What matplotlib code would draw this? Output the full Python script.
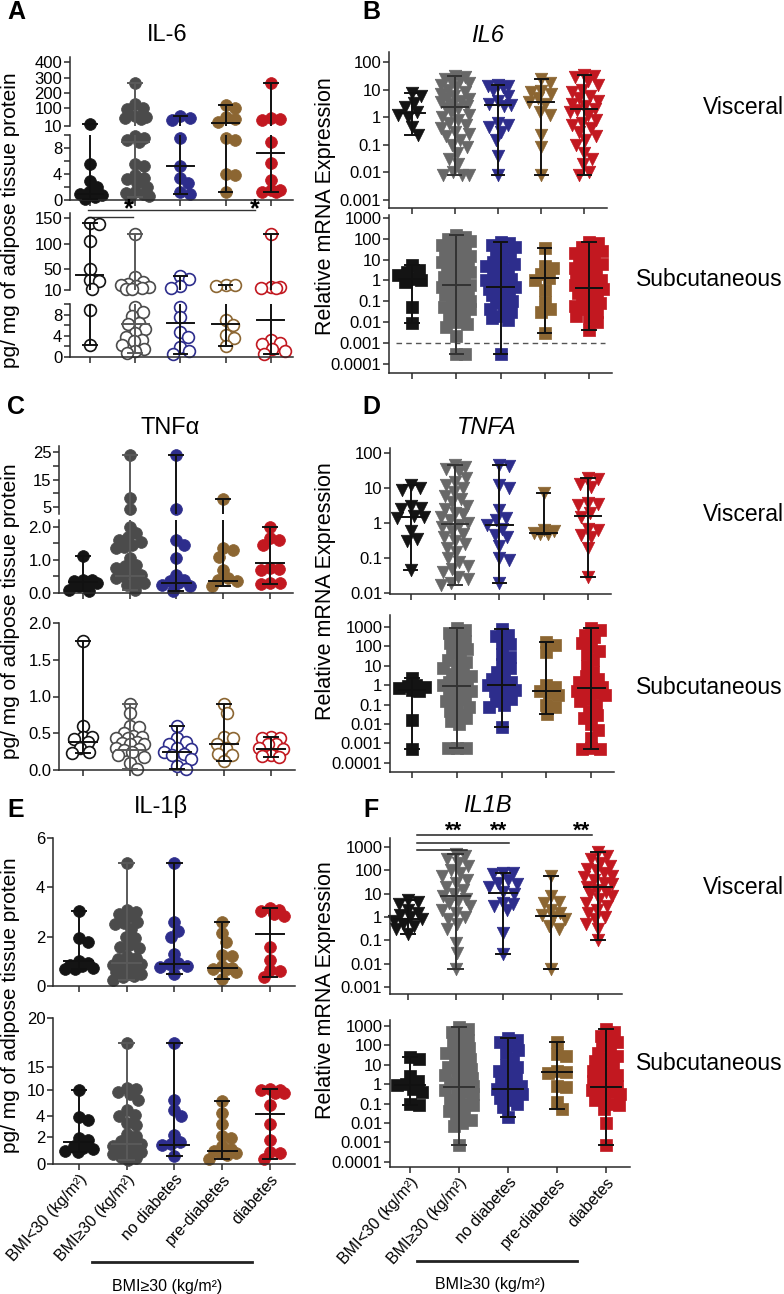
import numpy as np
import matplotlib.pyplot as plt
from matplotlib.lines import Line2D
from matplotlib.ticker import FuncFormatter, NullFormatter
from matplotlib.transforms import blended_transform_factory

plt.rcParams['font.family'] = ['Liberation Sans', 'DejaVu Sans']

W, H = 784, 1294

groups = ['BMI<30 (kg/m²)', 'BMI≥30 (kg/m²)', 'no diabetes', 'pre-diabetes', 'diabetes']
prot_colors = ['#141414', '#4b4b4b', '#2d2d8c', '#8c6632', '#c21820']
mrna_colors = ['#141414', '#686868', '#2d2d8c', '#8c6632', '#c21820']
prot_lines = ['#111111', '#5a5a5a', '#111111', '#111111', '#111111']
mrna_lines = ['#111111', '#333333', '#111111', '#111111', '#111111']

# ---- A: IL-6 protein (pg/mg)
il6_prot_visc = [
    [20, 5.5, 3.0, 2.0, 1.2, 1.0, 0.8, 0.5, 0.2],
    [270, 130, 100, 95, 60, 55, 50, 45, 9.8, 9.5, 9.2, 9.0, 5.6, 5.3, 3.8, 3.4, 3.2, 2.6,
     2.0, 1.2, 1.1, 1.0, 0.6, 0.5],
    [60, 50, 38, 9.5, 5.3, 3.4, 2.6, 1.2, 0.9],
    [120, 100, 55, 45, 30, 9.6, 9.2, 4.0, 3.8, 1.3],
    [270, 50, 45, 40, 9.0, 5.7, 3.1, 1.6, 1.5, 1.3, 1.2],
]
il6_prot_visc_med = [0.9, 9.0, 5.2, 25, 7.2]
il6_prot_subq = [
    [140, 138, 105, 50, 30, 28, 12, 8.8, 2.3],
    [120, 35, 25, 22, 20, 18, 15, 14, 12, 11, 9.5, 8.5, 7.8, 6.5, 6.2, 5.2, 4.5, 3.8,
     3.2, 3.0, 2.2, 1.5, 1.2, 0.8],
    [38, 32, 18, 14, 9.5, 7.5, 4.8, 3.8, 1.8, 1.2, 0.6],
    [20, 19, 18, 7.0, 6.0, 4.2, 3.5, 2.0],
    [120, 16, 15, 14, 13, 3.2, 2.6, 2.4, 1.5, 1.2, 0.6],
]
il6_prot_subq_med = [40, 6.2, 6.5, 6.2, 7.0]

# ---- B: IL6 mRNA
il6_mrna_visc = [
    [7.5, 6, 3.3, 2.3, 1.5, 1.2, 1.0, 0.45, 0.23],
    [30, 28, 25, 22, 20, 18, 15, 12, 10, 8, 7, 6, 5, 4.5, 4, 3.5, 3, 2.5, 2.2, 2, 1.5,
     1.2, 1.0, 0.8, 0.6, 0.5, 0.4, 0.3, 0.25, 0.2, 0.15, 0.1, 0.08, 0.05, 0.03, 0.02,
     0.01, 0.008, 0.008, 0.008],
    [15, 14, 13, 12, 10, 6, 4, 3, 2.7, 2.5, 0.6, 0.5, 0.45, 0.3, 0.15, 0.04, 0.008],
    [25, 18, 9, 8, 7, 5, 3.5, 3.0, 1.5, 1.2, 0.23, 0.08, 0.008],
    [35, 30, 28, 20, 15, 10, 8, 6, 5, 4, 3, 2.5, 2, 1.8, 1.5, 1.2, 0.8, 0.6, 0.5, 0.4,
     0.3, 0.2, 0.15, 0.1, 0.05, 0.03, 0.02, 0.01, 0.008],
]
il6_mrna_visc_med = [1.4, 2.3, 2.8, 3.5, 1.97]
il6_mrna_subq = [
    [5.5, 3.2, 2.5, 1.8, 1.2, 1.0, 0.8, 0.05, 0.009],
    [150, 120, 100, 80, 60, 50, 40, 30, 25, 20, 15, 12, 10, 8, 6, 5, 4, 3, 2.5, 2, 1.5,
     1.2, 1, 0.8, 0.6, 0.5, 0.4, 0.3, 0.25, 0.2, 0.15, 0.1, 0.08, 0.06, 0.05, 0.04, 0.03,
     0.02, 0.015, 0.01, 0.008, 0.006, 0.002, 0.0003, 0.0003],
    [70, 60, 50, 40, 30, 20, 15, 10, 8, 6, 5, 4, 3, 2, 1.5, 1.2, 1.0, 0.8, 0.6, 0.5, 0.4,
     0.3, 0.25, 0.2, 0.15, 0.1, 0.08, 0.05, 0.04, 0.03, 0.02, 0.015, 0.012, 0.0003],
    [35, 5, 4, 2, 1.3, 1.0, 0.35, 0.09, 0.04, 0.03, 0.003],
    [70, 60, 40, 30, 25, 20, 15, 10, 8, 6, 5, 4, 3, 2, 1.5, 1.2, 1, 0.8, 0.6, 0.5, 0.4,
     0.3, 0.25, 0.2, 0.15, 0.1, 0.08, 0.06, 0.05, 0.04, 0.03, 0.02, 0.015, 0.01, 0.004],
]
il6_mrna_subq_med = [1.1, 0.6, 0.5, 1.3, 0.45]

# ---- C: TNFa protein
tnf_prot_visc = [
    [1.12, 0.4, 0.38, 0.35, 0.33, 0.3, 0.2, 0.1, 0.05],
    [23.9, 8.3, 4.3, 2.0, 1.8, 1.7, 1.6, 1.55, 1.45, 1.4, 1.35, 1.05, 0.85, 0.8, 0.75,
     0.6, 0.55, 0.5, 0.45, 0.4, 0.3, 0.25, 0.1],
    [23.9, 4.3, 1.6, 1.45, 1.05, 0.55, 0.4, 0.35, 0.3, 0.25, 0.2, 0.05],
    [7.9, 1.35, 1.3, 1.1, 0.7, 0.45, 0.4, 0.35, 0.2],
    [2.0, 1.65, 1.6, 1.45, 0.75, 0.72, 0.7, 0.3, 0.3, 0.28],
]
tnf_prot_visc_med = [0.32, 0.52, 0.3, 0.37, 0.9]
tnf_prot_subq = [
    [1.75, 0.6, 0.45, 0.45, 0.42, 0.38, 0.3, 0.25, 0.23],
    [0.9, 0.77, 0.6, 0.58, 0.5, 0.46, 0.45, 0.44, 0.43, 0.38, 0.37, 0.36, 0.35, 0.3,
     0.28, 0.27, 0.25, 0.2, 0.18, 0.1, 0.02],
    [0.6, 0.43, 0.38, 0.36, 0.3, 0.28, 0.25, 0.22, 0.2, 0.15, 0.05, 0.02],
    [0.9, 0.78, 0.45, 0.44, 0.36, 0.3, 0.22, 0.2, 0.12],
    [0.45, 0.44, 0.43, 0.36, 0.35, 0.3, 0.28, 0.2, 0.19, 0.18],
]
tnf_prot_subq_med = [0.38, 0.27, 0.24, 0.36, 0.29]

# ---- D: TNFA mRNA
tnf_mrna_visc = [
    [12, 10, 9, 3, 2.8, 2.5, 1.6, 1.5, 1.4, 0.6, 0.35, 0.3, 0.045],
    [45, 40, 35, 30, 20, 15, 12, 10, 8, 6, 5, 4, 3, 2.5, 2, 1.8, 1.5, 1.2, 1.0, 0.9, 0.8,
     0.6, 0.5, 0.4, 0.3, 0.25, 0.2, 0.15, 0.1, 0.08, 0.06, 0.05, 0.04, 0.03, 0.025, 0.02,
     0.017],
    [45, 42, 12, 10, 2.3, 1.4, 1.2, 0.9, 0.7, 0.45, 0.4, 0.22, 0.1, 0.09, 0.02],
    [7.5, 0.62, 0.58, 0.52, 0.5, 0.48],
    [20, 18, 13, 11, 3.8, 3.5, 3.2, 2.0, 1.5, 0.7, 0.65, 0.45, 0.4, 0.2, 0.03],
]
tnf_mrna_visc_med = [1.5, 0.93, 0.88, 0.52, 1.6]
tnf_mrna_subq = [
    [2.5, 1.0, 0.9, 0.8, 0.7, 0.6, 0.5, 0.016, 0.0005],
    [900, 700, 500, 300, 200, 150, 100, 70, 50, 30, 20, 15, 10, 8, 5, 4, 3, 2, 1.5, 1.2,
     1, 0.8, 0.6, 0.5, 0.4, 0.3, 0.2, 0.15, 0.1, 0.08, 0.05, 0.03, 0.02, 0.015, 0.01,
     0.0006, 0.0006, 0.0006],
    [800, 400, 350, 150, 130, 40, 30, 12, 8, 5, 3, 2, 1.5, 1.2, 1.0, 0.8, 0.6, 0.5, 0.3,
     0.2, 0.15, 0.1, 0.08, 0.007],
    [170, 120, 50, 1.0, 0.8, 0.5, 0.4, 0.3, 0.1, 0.08, 0.035],
    [900, 700, 400, 300, 150, 100, 60, 40, 20, 10, 5, 3, 2, 1.5, 1.0, 0.8, 0.7, 0.5, 0.4,
     0.3, 0.2, 0.15, 0.1, 0.05, 0.03, 0.02, 0.01, 0.005, 0.002, 0.0006, 0.0005, 0.0005],
]
tnf_mrna_subq_med = [0.57, 0.9, 1.0, 0.5, 0.72]

# ---- E: IL-1b protein
il1b_prot_visc = [
    [3.05, 1.95, 1.8, 1.0, 0.95, 0.85, 0.8, 0.75, 0.7, 0.7],
    [5.0, 3.1, 3.0, 2.9, 2.85, 2.6, 2.55, 2.5, 2.3, 2.0, 1.95, 1.65, 1.6, 1.55, 1.2, 1.15,
     1.1, 0.95, 0.9, 0.85, 0.8, 0.75, 0.6, 0.55, 0.5, 0.4, 0.35, 0.25],
    [5.0, 2.6, 2.25, 2.0, 1.3, 0.95, 0.9, 0.8, 0.78, 0.5],
    [2.6, 2.15, 1.8, 1.25, 1.2, 0.8, 0.75, 0.7, 0.68, 0.55, 0.3],
    [3.15, 3.1, 3.05, 2.9, 2.85, 1.6, 1.05, 0.65, 0.62, 0.35],
]
il1b_prot_visc_med = [1.0, 0.92, 0.9, 0.75, 2.1]
il1b_prot_subq = [
    [10, 3.9, 3.6, 1.9, 1.8, 1.3, 1.2, 1.1, 1.0, 0.9],
    [17.5, 10.5, 10.2, 9.5, 9.0, 7.7, 5.5, 4.3, 4.1, 3.3, 3.1, 2.3, 2.1, 1.7, 1.6, 1.5,
     1.3, 1.2, 1.15, 1.1, 0.9, 0.8, 0.75, 0.5, 0.45, 0.3],
    [17.5, 7.7, 5.5, 4.0, 2.2, 1.6, 1.5, 1.4, 0.6],
    [7.5, 4.6, 3.2, 2.1, 1.9, 1.3, 1.1, 1.0, 0.85, 0.8, 0.7, 0.4],
    [10.3, 10.1, 10.0, 9.3, 9.2, 6.5, 3.2, 1.8, 0.9, 0.85, 0.4],
]
il1b_prot_subq_med = [1.6, 1.5, 1.4, 1.0, 4.4]

# ---- F: IL1B mRNA
il1b_mrna_visc = [
    [5.5, 4.5, 3.5, 2.0, 1.5, 1.2, 1.0, 0.8, 0.7, 0.5, 0.4, 0.3, 0.18],
    [500, 400, 300, 200, 150, 100, 80, 60, 40, 30, 20, 15, 10, 8, 6, 5, 4, 3, 2, 1.5, 1.0,
     0.8, 0.5, 0.3, 0.08, 0.03, 0.006],
    [80, 75, 70, 40, 30, 25, 20, 12, 10, 4, 3.5, 3, 2, 0.2, 0.025],
    [60, 8, 4.5, 4, 2, 1.5, 1.2, 1.0, 0.8, 0.4, 0.3, 0.006],
    [600, 400, 300, 200, 150, 120, 100, 80, 60, 50, 40, 30, 25, 20, 15, 12, 10, 8, 6, 4,
     3, 2, 1.5, 1.0, 0.8, 0.5, 0.3, 0.1],
]
il1b_mrna_visc_med = [0.8, 8.2, 11, 1.1, 20]
il1b_mrna_subq = [
    [25, 20, 2.5, 1.5, 1.0, 0.9, 0.6, 0.4, 0.09, 0.08],
    [900, 700, 500, 300, 200, 150, 100, 70, 50, 40, 30, 20, 15, 10, 8, 6, 5, 4, 3, 2, 1.5,
     1.2, 1.0, 0.8, 0.6, 0.5, 0.4, 0.3, 0.2, 0.15, 0.1, 0.08, 0.06, 0.04, 0.03, 0.02,
     0.015, 0.01, 0.007, 0.0007],
    [250, 200, 150, 100, 60, 40, 20, 10, 8, 5, 3, 2, 1.5, 1.0, 0.8, 0.6, 0.5, 0.4, 0.3,
     0.2, 0.15, 0.1, 0.07, 0.02],
    [150, 35, 30, 5, 4.2, 4.0, 0.8, 0.7, 0.12, 0.05],
    [700, 500, 300, 200, 150, 100, 60, 40, 30, 20, 15, 10, 8, 5, 4, 3, 2, 1.5, 1.0, 0.8,
     0.7, 0.5, 0.4, 0.3, 0.2, 0.15, 0.1, 0.08, 0.05, 0.01, 0.0007],
]
il1b_mrna_subq_med = [0.9, 0.7, 0.6, 4.2, 0.73]


fig = plt.figure(figsize=(W / 100, H / 100), dpi=100)


def make_ax(box, xlim, ylim, scale=None, yticks=None, ylabels=None, bottom=True):
    x0, y0, x1, y1 = box
    ax = fig.add_axes([x0 / W, 1 - y1 / H, (x1 - x0) / W, (y1 - y0) / H])
    if scale == 'log':
        ax.set_yscale('log')
    elif scale is not None:
        vals, pos = scale
        ax.set_yscale('function', functions=(lambda v: np.interp(v, vals, pos),
                                             lambda p: np.interp(p, pos, vals)))
    ax.set_xlim(xlim)
    ax.set_ylim(ylim)
    ax.patch.set_alpha(0)
    for s in ['top', 'right']:
        ax.spines[s].set_visible(False)
    for s in ['left', 'bottom']:
        ax.spines[s].set_linewidth(1.1)
        ax.spines[s].set_color('#2a2a2a')
    ax.set_xticks(range(5))
    ax.set_xticklabels([])
    ax.tick_params(axis='both', which='major', length=4, width=1.1, color='#2a2a2a',
                   labelsize=12, pad=1.5)
    ax.tick_params(axis='y', which='minor', length=2, width=0.7, color='#2a2a2a')
    if yticks is not None:
        ax.set_yticks(yticks)
        if ylabels is None:
            ax.yaxis.set_major_formatter(FuncFormatter(lambda v, p: '%g' % v))
        else:
            ax.set_yticklabels(ylabels)
    if scale == 'log':
        ax.yaxis.set_minor_formatter(NullFormatter())
    else:
        ax.yaxis.set_minor_locator(plt.NullLocator())
    if not bottom:
        ax.spines['bottom'].set_visible(False)
        ax.tick_params(axis='x', bottom=False)
    return ax


def swarm(ax, xc, vals, d, maxw):
    pts = ax.transData.transform(np.column_stack([np.full(len(vals), float(xc)), vals]))
    x0 = pts[0, 0]
    ys = pts[:, 1]
    xs = np.zeros(len(vals))
    placed = []
    for i in np.argsort(-ys, kind='stable'):
        y = ys[i]
        cands = [0.0]
        for px, py in placed:
            dy = y - py
            if abs(dy) < d:
                dx = np.sqrt(d * d - dy * dy)
                cands += [px - x0 + dx, px - x0 - dx]
        cands.sort(key=abs)
        best = None
        for c in cands:
            if abs(c) > maxw + 1e-6:
                continue
            if all((c + x0 - px) ** 2 + (y - py) ** 2 >= d * d - 1e-6 for px, py in placed):
                best = c
                break
        if best is None:
            grid = np.linspace(-maxw, maxw, 25)
            score = [min((g + x0 - px) ** 2 + (y - py) ** 2 for px, py in placed) for g in grid]
            best = grid[int(np.argmax(score))]
        xs[i] = x0 + best
        placed.append((x0 + best, y))
    return ax.transData.inverted().transform(np.column_stack([xs, ys]))[:, 0]


def draw_panel(parts, data, meds, colors, lines, marker, filled, ms, maxw=14):
    d = ms * 100 / 72 * 0.8
    for k, (vals, med) in enumerate(zip(data, meds)):
        vals = np.asarray(vals, float)
        vmin, vmax = vals.min(), vals.max()
        for ax, lo, hi in parts:
            sub = vals[(vals >= lo) & (vals < hi)]
            if len(sub):
                xs = swarm(ax, k, sub, d, maxw)
                ax.scatter(xs, sub, s=ms ** 2, marker=marker,
                           facecolors=colors[k] if filled else 'white',
                           edgecolors=colors[k], linewidths=0.5 if filled else 1.2,
                           zorder=2, clip_on=False)
            a, b = max(vmin, lo), min(vmax, hi)
            if b > a:
                ax.plot([k, k], [a, b], color=lines[k], lw=1.4, zorder=3,
                        solid_capstyle='butt')
            for v, hw in [(vmin, 0.15), (vmax, 0.15), (med, 0.3)]:
                if lo <= v < hi:
                    ax.plot([k - hw, k + hw], [v, v], color=lines[k], lw=1.4, zorder=3)


def ftext(x, y, s, **kw):
    fig.text(x / W, 1 - y / H, s, **kw)


def fline(x0, x1, y, lw=1.0, **kw):
    fig.add_artist(Line2D([x0 / W, x1 / W], [1 - y / H, 1 - y / H],
                          transform=fig.transFigure, lw=lw, **kw))


inf = np.inf

# ---------------- A
a_up = make_ax((70, 57, 293, 126), (-0.44, 4.49), (10, 430),
               scale=([10, 100, 200, 300, 400, 430], [0, 18, 33, 48, 64, 69]),
               yticks=[10, 100, 200, 300, 400], bottom=False)
a_lo = make_ax((70, 135, 293, 200), (-0.44, 4.49), (0, 10),
               yticks=[0, 2, 4, 6, 8, 10], ylabels=['0', '', '4', '', '8', ''])
draw_panel([(a_lo, -inf, 10), (a_up, 10, inf)], il6_prot_visc, il6_prot_visc_med,
           prot_colors, prot_lines, 'o', True, 8.5)

a2_up = make_ax((70, 213, 293, 290), (-0.44, 4.49), (10, 160),
                yticks=[10, 50, 100, 150], bottom=False)
a2_lo = make_ax((70, 304, 293, 357), (-0.44, 4.49), (0, 10),
                yticks=[0, 2, 4, 6, 8, 10], ylabels=['0', '', '4', '', '8', ''])
draw_panel([(a2_lo, -inf, 10), (a2_up, 10, inf)], il6_prot_subq, il6_prot_subq_med,
           prot_colors, prot_lines, 'o', False, 8.5)

tr = blended_transform_factory(a_lo.transData, fig.transFigure)
a_lo.plot([-0.05, 3.65], [1 - 210 / H] * 2, transform=tr, clip_on=False, color='#333', lw=1)
a_lo.plot([-0.05, 0.95], [1 - 217 / H] * 2, transform=tr, clip_on=False, color='#333', lw=1)
for c in [0.87, 3.65]:
    a_lo.text(c, 1 - 209 / H, '*', transform=tr, ha='center', va='center', fontsize=18,
              fontweight='bold')

# ---------------- B
decades = [1e-4, 1e-3, 1e-2, 1e-1, 1, 10, 100, 1000]
b_top = make_ax((389, 52, 607, 208), (-0.53, 4.53), (0.00051, 230), scale='log',
                yticks=decades[1:7])
draw_panel([(b_top, -inf, inf)], il6_mrna_visc, il6_mrna_visc_med,
           mrna_colors, mrna_lines, 'v', True, 9)
b_bot = make_ax((389, 215, 612, 373), (-0.52, 4.52), (3.5e-5, 1390), scale='log',
                yticks=decades)
b_bot.axhline(0.001, xmin=0.03, xmax=0.97, color='#555', lw=1, ls=(0, (4, 3)), zorder=1)
draw_panel([(b_bot, -inf, inf)], il6_mrna_subq, il6_mrna_subq_med,
           mrna_colors, mrna_lines, 's', True, 8)

# ---------------- C
c_up = make_ax((59, 446, 293, 514), (-0.51, 4.49), (2.45, 27.2),
               yticks=[5, 10, 15, 20, 25], ylabels=['5', '', '15', '', '25'], bottom=False)
c_lo = make_ax((59, 520, 293, 593), (-0.51, 4.49), (0, 2.2),
               yticks=[0, 0.5, 1, 1.5, 2], ylabels=['0.0', '', '1.0', '', '2.0'])
draw_panel([(c_lo, -inf, 2.2), (c_up, 2.2, inf)], tnf_prot_visc, tnf_prot_visc_med,
           prot_colors, prot_lines, 'o', True, 8.5)
c_bot = make_ax((59, 623, 295, 770), (-0.51, 4.51), (0, 2.0),
                yticks=[0, 0.5, 1, 1.5, 2], ylabels=['0.0', '0.5', '1.0', '1.5', '2.0'])
draw_panel([(c_bot, -inf, inf)], tnf_prot_subq, tnf_prot_subq_med,
           prot_colors, prot_lines, 'o', False, 8.5)

# ---------------- D
d_top = make_ax((390, 448, 611, 594), (-0.47, 4.52), (0.0095, 140), scale='log',
                yticks=decades[2:7])
draw_panel([(d_top, -inf, inf)], tnf_mrna_visc, tnf_mrna_visc_med,
           mrna_colors, mrna_lines, 'v', True, 9)
d_bot = make_ax((390, 615, 614, 772), (-0.49, 4.51), (3.4e-5, 4150), scale='log',
                yticks=decades)
draw_panel([(d_bot, -inf, inf)], tnf_mrna_subq, tnf_mrna_subq_med,
           mrna_colors, mrna_lines, 's', True, 8)

# ---------------- E
e_top = make_ax((53, 838, 295, 986), (-0.54, 4.52), (0, 6), yticks=[0, 2, 4, 6])
draw_panel([(e_top, -inf, inf)], il1b_prot_visc, il1b_prot_visc_med,
           prot_colors, prot_lines, 'o', True, 8.5)
e_bot = make_ax((53, 1018, 295, 1164), (-0.54, 4.52), (0, 20),
                scale=([0, 2, 4, 10, 15, 20], [0, 27, 48, 74, 97, 146]),
                yticks=[0, 2, 4, 10, 15, 20])
draw_panel([(e_bot, -inf, inf)], il1b_prot_subq, il1b_prot_subq_med,
           prot_colors, prot_lines, 'o', True, 8.5)

# ---------------- F
f_top = make_ax((390, 838, 622, 994), (-0.38, 4.5), (0.0005, 2460), scale='log',
                yticks=decades[1:])
draw_panel([(f_top, -inf, inf)], il1b_mrna_visc, il1b_mrna_visc_med,
           mrna_colors, mrna_lines, 'v', True, 9)
f_bot = make_ax((390, 1020, 630, 1167), (-0.41, 4.49), (5.4e-5, 2040), scale='log',
                yticks=decades)
draw_panel([(f_bot, -inf, inf)], il1b_mrna_subq, il1b_mrna_subq_med,
           mrna_colors, mrna_lines, 's', True, 8)

tr = blended_transform_factory(f_top.transData, fig.transFigure)
for c1, y in [(3.87, 835), (2.13, 843), (1.25, 850)]:
    f_top.plot([0.19, c1], [1 - y / H] * 2, transform=tr, clip_on=False, color='#222', lw=1.1)
for c in [0.96, 1.9, 3.66]:
    f_top.text(c, 1 - 831 / H, '**', transform=tr, ha='center', va='center', fontsize=16,
               fontweight='bold')

for ax in (e_bot, f_bot):
    ax.set_xticklabels(groups, rotation=48, ha='right', rotation_mode='anchor',
                       fontsize=11.5)

# ---------------- text
for s, x, y in [('A', 16, 12), ('B', 371, 12), ('C', 16, 407), ('D', 371, 407),
                ('E', 16, 810), ('F', 371, 810)]:
    ftext(x, y, s, fontsize=18, fontweight='bold', ha='center', va='center')

for s, x, y, st in [('IL-6', 167, 35, 'normal'), ('IL6', 487, 35, 'italic'),
                    ('TNFα', 170, 428, 'normal'), ('TNFA', 487, 428, 'italic'),
                    ('IL-1β', 161, 807, 'normal'), ('IL1B', 487, 806, 'italic')]:
    ftext(x, y, s, fontsize=17, style=st, ha='center', va='center')

for y in [107, 515, 888]:
    ftext(703, y, 'Visceral', fontsize=16.5, ha='left', va='center')
for y in [280, 687, 1063]:
    ftext(636, y, 'Subcutaneous', fontsize=16.5, ha='left', va='center')

for y in [220, 611, 1005]:
    ftext(11, y, 'pg/ mg of adipose tissue protein', fontsize=15, rotation=90,
          ha='center', va='center')
for y in [206, 591, 990]:
    ftext(325, y, 'Relative mRNA Expression', fontsize=15.5, rotation=90,
          ha='center', va='center')

fline(92, 252, 1262, lw=2, color='#222')
fline(417, 577, 1261, lw=2, color='#222')
ftext(167, 1287, 'BMI≥30 (kg/m²)', fontsize=11.5, ha='center', va='center')
ftext(490, 1285, 'BMI≥30 (kg/m²)', fontsize=11.5, ha='center', va='center')

fig.savefig('out.png', dpi=100)
